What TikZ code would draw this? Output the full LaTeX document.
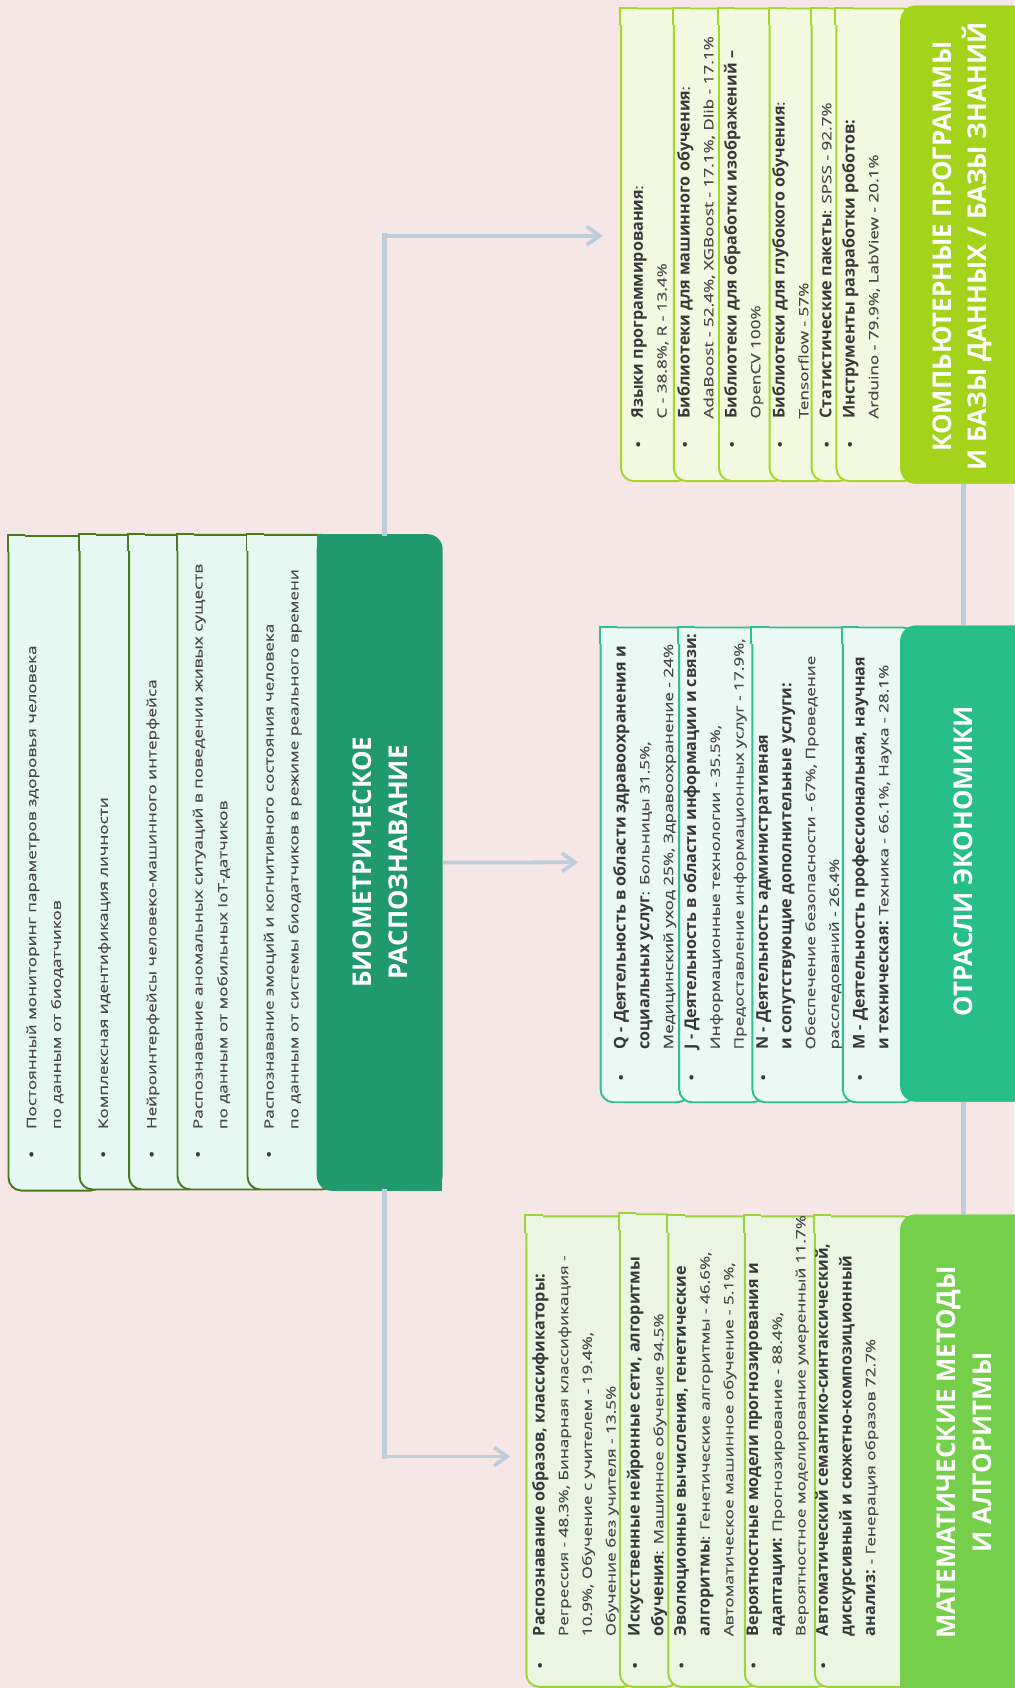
\documentclass[tikz,border=0pt]{standalone}
\usepackage{fontspec}
\setmainfont{Open Sans}
\newfontfamily\rgfont[FakeStretch=1.33,FakeBold=0.35]{Open Sans}
\newfontfamily\bdfont{Open Sans}
\usetikzlibrary{arrows.meta}
\definecolor{bg}{HTML}{F6E6E6}
\definecolor{cgreen}{HTML}{20996F}
\definecolor{lborder}{HTML}{4B7A1E}
\definecolor{lfill}{HTML}{E5F8F1}
\definecolor{compH}{HTML}{A3D31B}
\definecolor{compB}{HTML}{A8D52A}
\definecolor{compF}{HTML}{F3F9E0}
\definecolor{otrH}{HTML}{27BE8A}
\definecolor{otrB}{HTML}{2EC18D}
\definecolor{otrF}{HTML}{EAF9F4}
\definecolor{mathH}{HTML}{75CF4A}
\definecolor{mathB}{HTML}{9CD23A}
\definecolor{mathF}{HTML}{EBF6E2}
\definecolor{conn}{HTML}{BDCDDC}
\definecolor{rgtext}{HTML}{484848}
\definecolor{bdtext}{HTML}{383838}
\newcommand\B[1]{{\bdfont\bfseries\fontsize{15}{22}\selectfont\color{bdtext}#1}}
\newcommand\fs{\rule{0pt}{12pt}}
\newcommand\chbox[7]{%
  \node[draw=#6, fill=#7, line width=1.8pt, rounded corners=12pt, anchor=north west,
        minimum width={#4-#2}, minimum height={#5-#3}, inner sep=0pt] (#1) at (#2,#3) {};
  \fill[#7] (#2,#3) rectangle ++(16,16);
  \draw[#6, line width=1.8pt] (#2,#3+16) -- (#2,#3) -- (#2+16,#3);
}
\tikzset{
  body/.style={rotate=90, anchor=north west, inner sep=0pt, align=left, text=rgtext,
               font=\rgfont\fontsize{12}{22}\selectfont},
  bodyL/.style={body, font=\rgfont\fontsize{12}{23}\selectfont},
  bul/.style={inner sep=0pt, text=bdtext, font=\bdfont\fontsize{17}{17}\selectfont},
  hdr/.style={rotate=90, align=center, text=white, inner sep=0pt,
              font=\bdfont\bfseries\fontsize{24}{33}\selectfont},
  hbox/.style={rounded corners=14pt, anchor=north west, inner sep=0pt},
  vline/.style={draw=conn, line width=4.5pt, line cap=rect},
  hline/.style={draw=conn, line width=3.5pt, -{Straight Barb[length=12pt,width=17pt]}},
  rline/.style={draw=conn, line width=4pt}
}
\begin{document}
\begin{tikzpicture}[x=1pt,y=-1pt]
\useasboundingbox (0,0) rectangle (942,1568);
\fill[bg] (0,0) rectangle (942,1568);

% ---------- connector points ----------
\coordinate (tk) at (357.5,219);
\coordinate (tb) at (357.5,1353);
\coordinate (tipT) at (560,219);
\coordinate (tipM) at (537,801);
\coordinate (tipB) at (474,1353);
\coordinate (rl) at (895,0);

% ---------- left group ----------
\chbox{L1}{7}{497}{95}{1105}{lborder}{lfill}
\chbox{L2}{73}{496}{140}{1104}{lborder}{lfill}
\chbox{L3}{119}{496}{185}{1104}{lborder}{lfill}
\chbox{L4}{164}{496}{250}{1104}{lborder}{lfill}
\chbox{L5}{229}{496}{310}{1104}{lborder}{lfill}

% ---------- centre ----------
\node[fill=cgreen, hbox, minimum width=117, minimum height=610] (center) at (294,496) {};
\fill[cgreen] (294,496) rectangle ++(20,20);
\fill[cgreen] (411,1106) rectangle ++(-20,-20);

\draw[vline] (center.north -| tk) -- (tk);
\draw[hline] (tk) -- (tipT);
\draw[vline] (center.south -| tb) -- (tb);
\draw[hline] (tb) -- (tipB);
\draw[hline] (center.east) -- (tipM);

% ---------- right headers and line ----------
\node[fill=compH, hbox, minimum width=130, minimum height=444] (comph) at (836,5) {};
\node[fill=otrH, hbox, minimum width=130, minimum height=442] (otrh) at (836,581) {};
\node[fill=mathH, hbox, minimum width=130, minimum height=470] (mathh) at (836,1128) {};
\draw[rline] (comph.south -| rl) -- (otrh.north -| rl);
\draw[rline] (otrh.south -| rl) -- (mathh.north -| rl);

% ---------- top group ----------
\chbox{T1}{576}{7}{640}{446}{compB}{compF}
\chbox{T2}{625}{7}{690}{446}{compB}{compF}
\chbox{T3}{667}{7}{730}{446}{compB}{compF}
\chbox{T4}{714}{7}{770}{446}{compB}{compF}
\chbox{T5}{753}{7}{790}{446}{compB}{compF}
\chbox{T6}{776}{7}{850}{446}{compB}{compF}
\node[fill=compH, hbox, minimum width=130, minimum height=444] (comph2) at (836,5) {};

% ---------- middle group ----------
\chbox{M1}{557}{582}{640}{1023}{otrB}{otrF}
\chbox{M2}{630}{582}{710}{1023}{otrB}{otrF}
\chbox{M3}{698}{582}{795}{1023}{otrB}{otrF}
\chbox{M4}{782}{582}{850}{1023}{otrB}{otrF}
\node[fill=otrH, hbox, minimum width=130, minimum height=442] (otrh2) at (836,581) {};

% ---------- bottom group ----------
\chbox{B1}{488}{1129}{590}{1566}{mathB}{mathF}
\chbox{B2}{575}{1127}{630}{1566}{mathB}{mathF}
\chbox{B3}{620}{1129}{705}{1566}{mathB}{mathF}
\chbox{B4}{691}{1129}{770}{1566}{mathB}{mathF}
\chbox{B5}{756}{1129}{850}{1566}{mathB}{mathF}
\node[fill=mathH, hbox, minimum width=130, minimum height=470] (mathh2) at (836,1128) {};

% ---------- header texts ----------
\node[hdr] (centert) at (353,801) {БИОМЕТРИЧЕСКОЕ\\РАСПОЗНАВАНИЕ};
\node[hdr] (compt) at (894,229) {КОМПЬЮТЕРНЫЕ ПРОГРАММЫ\\И БАЗЫ ДАННЫХ / БАЗЫ ЗНАНИЙ};
\node[hdr] (otrt) at (895,800) {ОТРАСЛИ ЭКОНОМИКИ};
\node[hdr] (matht) at (895.5,1349) {МАТЕМАТИЧЕСКИЕ МЕТОДЫ\\И АЛГОРИТМЫ};

% ---------- left texts ----------
\node[bul] (bL1) at (29.4,1075) {•};
\node[bodyL] (tL1) at (21.4,1049) {\fs Постоянный мониторинг параметров здоровья человека\\по данным от биодатчиков};
\node[bul] (bL2) at (96,1075) {•};
\node[bodyL] (tL2) at (88,1049) {\fs Комплексная идентификация личности};
\node[bul] (bL3) at (141,1075) {•};
\node[bodyL] (tL3) at (133,1049) {\fs Нейроинтерфейсы человеко-машинного интерфейса};
\node[bul] (bL4) at (184,1075) {•};
\node[bodyL] (tL4) at (176,1049) {\fs Распознавание аномальных ситуаций в поведении живых существ\\по данным от мобильных IoT-датчиков};
\node[bul] (bL5) at (250,1075) {•};
\node[bodyL] (tL5) at (242,1049) {\fs Распознавание эмоций и когнитивного состояния человека\\по данным от системы биодатчиков в режиме реального времени};

% ---------- top texts ----------
\node[bul] (bT1) at (593,415) {•};
\node[body] (tT1) at (585,389) {\fs\B{Языки программирования}:\\C - 38.8\%, R - 13.4\%};
\node[bul] (bT2) at (636.4,415) {•};
\node[body] (tT2) at (628.4,389) {\fs\B{Библиотеки для машинного обучения}:\\AdaBoost - 52.4\%, XGBoost - 17.1\%, Dlib - 17.1\%};
\node[bul] (bT3) at (680,415) {•};
\node[body] (tT3) at (672,389) {\fs\B{Библиотеки для обработки изображений –}\\OpenCV 100\%};
\node[bul] (bT4) at (724.6,415) {•};
\node[body] (tT4) at (716.6,389) {\fs\B{Библиотеки для глубокого обучения}:\\Tensorflow - 57\%};
\node[bul] (bT5) at (768,415) {•};
\node[body] (tT5) at (760,389) {\fs\B{Статистические пакеты}: SPSS - 92.7\%};
\node[bul] (bT6) at (789.6,415) {•};
\node[body] (tT6) at (781.6,389) {\fs\B{Инструменты разработки роботов:}\\Arduino - 79.9\%, LabView - 20.1\%};

% ---------- middle texts ----------
\node[bul] (bM1) at (577,1003) {•};
\node[body] (tM1) at (569,975) {\fs\B{Q - Деятельность в области здравоохранения и}\\\B{социальных услуг}: Больницы 31.5\%,\\Медицинский уход 25\%, Здравоохранение - 24\%};
\node[bul] (bM2) at (642.5,1003) {•};
\node[body] (tM2) at (634.5,975) {\fs\B{J - Деятельность в области информации и связи:}\\Информационные технологии - 35.5\%,\\Предоставление информационных услуг - 17.9\%,};
\node[bul] (bM3) at (709,1003) {•};
\node[body] (tM3) at (701,975) {\fs\B{N - Деятельность административная}\\\B{и сопутствующие дополнительные услуги:}\\Обеспечение безопасности - 67\%, Проведение\\расследований - 26.4\%};
\node[bul] (bM4) at (799,1003) {•};
\node[body] (tM4) at (791,975) {\fs\B{M - Деятельность профессиональная, научная}\\\B{и техническая:} Техника - 66.1\%, Наука - 28.1\%};

% ---------- bottom texts ----------
\node[bul] (bB1) at (501.6,1549) {•};
\node[body] (tB1) at (493.6,1520) {\fs\B{Распознавание образов, классификаторы:}\\Регрессия - 48.3\%, Бинарная классификация -\\10.9\%, Обучение с учителем - 19.4\%,\\Обучение без учителя - 13.5\%};
\node[bul] (bB2) at (590,1549) {•};
\node[body] (tB2) at (582,1520) {\fs\B{Искусственные нейронные сети, алгоритмы}\\\B{обучения}: Машинное обучение 94.5\%};
\node[bul] (bB3) at (633,1549) {•};
\node[body] (tB3) at (625,1520) {\fs\B{Эволюционные вычисления, генетические}\\\B{алгоритмы}: Генетические алгоритмы - 46.6\%,\\Автоматическое машинное обучение - 5.1\%,};
\node[bul] (bB4) at (700,1549) {•};
\node[body] (tB4) at (692,1520) {\fs\B{Вероятностные модели прогнозирования и}\\\B{адаптации:} Прогнозирование - 88.4\%,\\Вероятностное моделирование умеренный 11.7\%};
\node[bul] (bB5) at (764.8,1549) {•};
\node[body] (tB5) at (756.8,1520) {\fs\B{Автоматический семантико-синтаксический,}\\\B{дискурсивный и сюжетно-композиционный}\\\B{анализ:} - Генерация образов 72.7\%};
\end{tikzpicture}
\end{document}
